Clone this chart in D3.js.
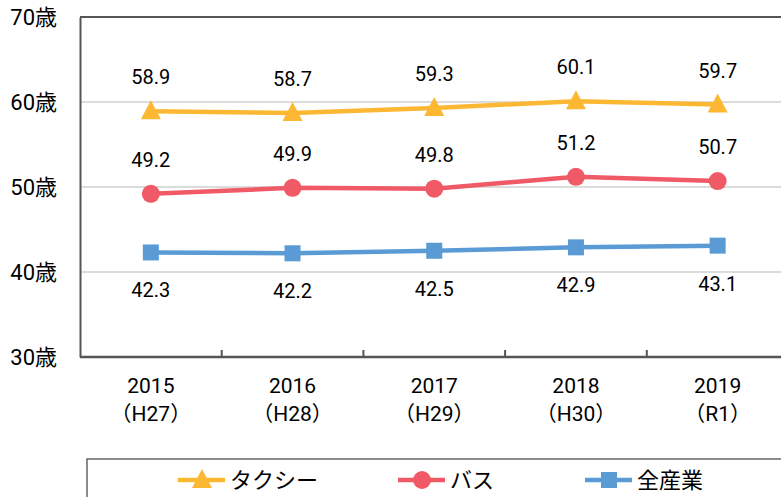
<!DOCTYPE html>
<html>
<head>
<meta charset="utf-8">
<script src="https://cdn.jsdelivr.net/npm/d3@7"></script>
<style>
  body { margin: 0; background: #fff; }
  text { font-family: Roboto, "Noto Sans CJK JP", sans-serif; fill: #000; }
</style>
</head>
<body>
<div id="chart"></div>
<script>
const years = ["2015", "2016", "2017", "2018", "2019"];
const eras = ["（H27）", "（H28）", "（H29）", "（H30）", "（R1）"];
const taxi = [58.9, 58.7, 59.3, 60.1, 59.7];
const bus = [49.2, 49.9, 49.8, 51.2, 50.7];
const allIndustry = [42.3, 42.2, 42.5, 42.9, 43.1];
const yTicks = [30, 40, 50, 60, 70];

const W = 781, H = 497;
const margin = { left: 80, top: 17, bottom: 357 };

const series = [
  { name: "タクシー", values: taxi, color: "#FDB833", marker: "triangle", labelPos: "above", legendX: 178 },
  { name: "バス", values: bus, color: "#EF5A66", marker: "circle", labelPos: "above", legendX: 398 },
  { name: "全産業", values: allIndustry, color: "#5B9BD5", marker: "square", labelPos: "below", legendX: 585 }
];

const svg = d3.select("#chart").append("svg")
  .attr("width", W).attr("height", H);

const x = d3.scaleBand().domain(years).range([margin.left, margin.left + 5 * 141.7]);
const y = d3.scaleLinear().domain([30, 70]).range([margin.bottom, margin.top]);

// gridlines
svg.append("g").selectAll("line").data(yTicks.slice(1, 4)).join("line")
  .attr("x1", margin.left).attr("x2", W)
  .attr("y1", d => y(d)).attr("y2", d => y(d))
  .attr("stroke", "#d0d0d0").attr("stroke-width", 1.5);

// frame top
svg.append("line").attr("x1", margin.left).attr("x2", W)
  .attr("y1", y(70)).attr("y2", y(70)).attr("stroke", "#555").attr("stroke-width", 2);

const yAxis = svg.append("g")
  .attr("transform", `translate(${margin.left},0)`)
  .call(d3.axisLeft(y).tickValues(yTicks).tickSize(0).tickPadding(23).tickFormat(d => d + "歳"));
yAxis.select(".domain").attr("stroke", "#555").attr("stroke-width", 2);
yAxis.selectAll("text")
  .style("font-size", "22px").attr("dy", "0.35em")
  .style("font-family", "Roboto, 'Noto Sans CJK JP', sans-serif");

const xAxis = svg.append("g")
  .attr("transform", `translate(0,${margin.bottom})`);
xAxis.append("line").attr("x1", margin.left).attr("x2", W)
  .attr("stroke", "#555").attr("stroke-width", 2.5);
xAxis.selectAll(".tick").data(years.slice(1)).join("line")
  .attr("class", "tick")
  .attr("x1", d => x(d)).attr("x2", d => x(d))
  .attr("y1", 0).attr("y2", -7)
  .attr("stroke", "#555").attr("stroke-width", 2);

const xLabels = svg.append("g").selectAll("g").data(years).join("g")
  .attr("transform", d => `translate(${x(d) + x.bandwidth() / 2},0)`);
xLabels.append("text").attr("y", 393).attr("text-anchor", "middle")
  .style("font-size", "21px").text(d => d);
xLabels.append("text").attr("y", 421).attr("text-anchor", "middle")
  .style("font-size", "21px").text((d, i) => eras[i]);

function drawMarker(g, type, color) {
  if (type === "triangle") {
    g.append("path").attr("d", "M0,-11 L10,8 L-10,8 Z").attr("fill", color);
  } else if (type === "circle") {
    g.append("circle").attr("r", 9).attr("fill", color);
  } else {
    g.append("rect").attr("x", -8).attr("y", -8).attr("width", 16).attr("height", 16).attr("fill", color);
  }
}

const cx = d => x(d) + x.bandwidth() / 2;

series.forEach(s => {
  const line = d3.line().x((v, i) => cx(years[i])).y(v => y(v));
  svg.append("path").datum(s.values)
    .attr("d", line).attr("fill", "none")
    .attr("stroke", s.color).attr("stroke-width", 4.5);

  s.values.forEach((v, i) => {
    const g = svg.append("g").attr("transform", `translate(${cx(years[i])},${y(v)})`);
    drawMarker(g, s.marker, s.color);
    svg.append("text")
      .attr("x", cx(years[i]))
      .attr("y", s.labelPos === "above" ? y(v) - 34 : y(v) + 38)
      .attr("dy", "0.35em")
      .attr("text-anchor", "middle").style("font-size", "20px")
      .text(v.toFixed(1));
  });
});

// legend
svg.append("rect").attr("x", 87).attr("y", 459)
  .attr("width", 720).attr("height", 60)
  .attr("fill", "none").attr("stroke", "#666").attr("stroke-width", 1.5);

series.forEach(s => {
  const lg = svg.append("g").attr("transform", `translate(${s.legendX},480)`);
  lg.append("line").attr("x1", 0).attr("x2", 47)
    .attr("stroke", s.color).attr("stroke-width", 4.5);
  const mg = lg.append("g").attr("transform", "translate(24,0)");
  drawMarker(mg, s.marker, s.color);
  lg.append("text").attr("x", 52).attr("dy", "0.35em")
    .style("font-size", "22px").style("font-family", "'Noto Sans CJK JP', sans-serif")
    .text(s.name);
});
</script>
</body>
</html>
